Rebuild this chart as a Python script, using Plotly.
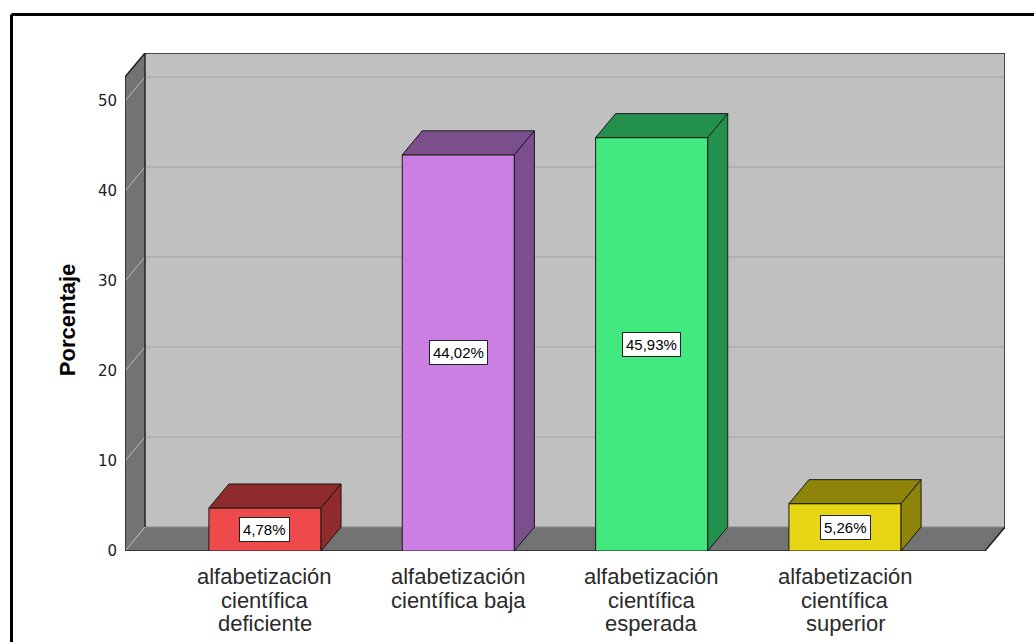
import plotly.graph_objects as go

# ---- data -------------------------------------------------------------
category_lines = [
    ["alfabetización", "científica", "deficiente"],
    ["alfabetización", "científica baja"],
    ["alfabetización", "científica", "esperada"],
    ["alfabetización", "científica", "superior"],
]
percentages = [4.78, 44.02, 45.93, 5.26]
front_colors = ["#EE4A4C", "#CB7FE3", "#42E97E", "#E6D614"]
shade_colors = ["#8F2B2D", "#7B4F8C", "#24904D", "#8E8409"]
y_ticks = [0, 10, 20, 30, 40, 50]

# ---- geometry -----------------------------------------------------------
W, H = 1034, 642
M_L, M_R, M_T, M_B = 125, 29, 53, 91
PLOT_W = W - M_L - M_R
PLOT_H = H - M_T - M_B

DEPTH_X_PX, DEPTH_Y_PX = 20, 24          # oblique depth of the 3D box
X_LO, X_HI = -0.724, 3.724               # front floor extent (category units)
px_per_x = (PLOT_W - DEPTH_X_PX) / (X_HI - X_LO)
DX = DEPTH_X_PX / px_per_x
Y_MAX = 55.33
px_per_y = PLOT_H / Y_MAX
DY = DEPTH_Y_PX / px_per_y
Y_WALL = Y_MAX - DY                      # front height of the wall
BAR_W = 0.58

idx = list(range(len(percentages)))


def poly(pts):
    return "M " + " L ".join(f"{x},{y}" for x, y in pts) + " Z"


def px_to_paper(px, py):
    return (px - M_L) / PLOT_W, (H - M_B - py) / PLOT_H


shapes = []
# back wall
shapes.append(dict(type="rect", xref="x", yref="y", layer="below",
                   x0=X_LO + DX, x1=X_HI + DX, y0=DY, y1=Y_WALL + DY,
                   fillcolor="#C0C0C0", line=dict(width=0)))
# left side wall
shapes.append(dict(type="path", xref="x", yref="y", layer="below",
                   path=poly([(X_LO, 0), (X_LO, Y_WALL), (X_LO + DX, Y_WALL + DY), (X_LO + DX, DY)]),
                   fillcolor="#737373", line=dict(width=0)))
# floor
shapes.append(dict(type="path", xref="x", yref="y", layer="below",
                   path=poly([(X_LO, 0), (X_HI, 0), (X_HI + DX, DY), (X_LO + DX, DY)]),
                   fillcolor="#737373", line=dict(width=0)))
# grid lines on the back wall and the matching diagonals on the side wall
for v in y_ticks:
    if v > 0:
        shapes.append(dict(type="line", xref="x", yref="y", layer="below",
                           x0=X_LO + DX, x1=X_HI + DX, y0=v + DY, y1=v + DY,
                           line=dict(color="#AEAEAE", width=1.5)))
    shapes.append(dict(type="line", xref="x", yref="y", layer="below",
                       x0=X_LO, x1=X_LO + DX, y0=v, y1=v + DY,
                       line=dict(color="#BDBDBD", width=1)))
# floor back edge
shapes.append(dict(type="line", xref="x", yref="y", layer="below",
                   x0=X_LO + DX, x1=X_HI + DX, y0=DY, y1=DY,
                   line=dict(color="#8A8A8A", width=1)))
# box edges
edge = dict(color="#222222", width=1.5)
for (x0, y0, x1, y1) in [
    (X_LO + DX, DY, X_LO + DX, Y_WALL + DY),
    (X_LO + DX, Y_WALL + DY, X_HI + DX, Y_WALL + DY),
    (X_HI + DX, DY, X_HI + DX, Y_WALL + DY),
    (X_LO, 0, X_LO, Y_WALL),
    (X_LO, Y_WALL, X_LO + DX, Y_WALL + DY),
    (X_LO, 0, X_HI, 0),
    (X_HI, 0, X_HI + DX, DY),
]:
    shapes.append(dict(type="line", xref="x", yref="y", layer="below",
                       x0=x0, x1=x1, y0=y0, y1=y1, line=edge))

# top and side faces of each bar
for i, v, c in zip(idx, percentages, shade_colors):
    xl, xr = i - BAR_W / 2, i + BAR_W / 2
    shapes.append(dict(type="path", xref="x", yref="y", layer="above",
                       path=poly([(xl, v), (xr, v), (xr + DX, v + DY), (xl + DX, v + DY)]),
                       fillcolor=c, line=dict(color="#1A1A1A", width=1)))
    shapes.append(dict(type="path", xref="x", yref="y", layer="above",
                       path=poly([(xr, 0), (xr + DX, DY), (xr + DX, v + DY), (xr, v)]),
                       fillcolor=c, line=dict(color="#1A1A1A", width=1)))

# outer frame
fx, fy = px_to_paper(11.5, 14.5)
_, fb = px_to_paper(0, H + 5)
fr, _ = px_to_paper(W + 5, 0)
shapes.append(dict(type="line", xref="paper", yref="paper", x0=fx, x1=fr, y0=fy, y1=fy,
                   line=dict(color="black", width=3)))
shapes.append(dict(type="line", xref="paper", yref="paper", x0=fx, x1=fx, y0=fy, y1=fb,
                   line=dict(color="black", width=3)))

annotations = []
# value labels
for i, v in zip(idx, percentages):
    annotations.append(dict(x=i, y=v / 2, xref="x", yref="y", showarrow=False,
                            text=f"{v:.2f}".replace(".", ",") + "%",
                            font=dict(family="Liberation Sans, Arial", size=15, color="black"),
                            bgcolor="white", bordercolor="#222222", borderwidth=1, borderpad=3))
# category labels
for i, lines in zip(idx, category_lines):
    for j, line in enumerate(lines):
        annotations.append(dict(x=i, y=0, xref="x", yref="y", showarrow=False,
                                yanchor="top", yshift=-(11 + 23.5 * j), text=line,
                                font=dict(family="Liberation Sans, Arial", size=22, color="#2A2A2A")))
# axis title
tx, _ = px_to_paper(53, 0)
annotations.append(dict(x=tx, y=25.7, xref="paper", yref="y", showarrow=False,
                        text="<b>Porcentaje</b>", textangle=-90,
                        font=dict(family="Liberation Sans, Arial", size=22, color="black")))

fig = go.Figure(go.Bar(
    x=idx, y=percentages, width=BAR_W,
    marker=dict(color=front_colors, line=dict(color="#1A1A1A", width=1)),
    hoverinfo="y",
))

fig.update_layout(
    width=W, height=H,
    margin=dict(l=M_L, r=M_R, t=M_T, b=M_B),
    paper_bgcolor="white", plot_bgcolor="white",
    showlegend=False,
    xaxis=dict(range=[X_LO, X_HI + DX], showgrid=False, zeroline=False,
               showline=False, showticklabels=False, ticks=""),
    yaxis=dict(range=[0, Y_MAX], tickvals=y_ticks, showgrid=False, zeroline=False,
               showline=False, ticks="", ticklabelstandoff=7,
               tickfont=dict(family="DejaVu Sans", size=15, color="#222222")),
    shapes=shapes,
    annotations=annotations,
)

fig.write_html("out.html")
